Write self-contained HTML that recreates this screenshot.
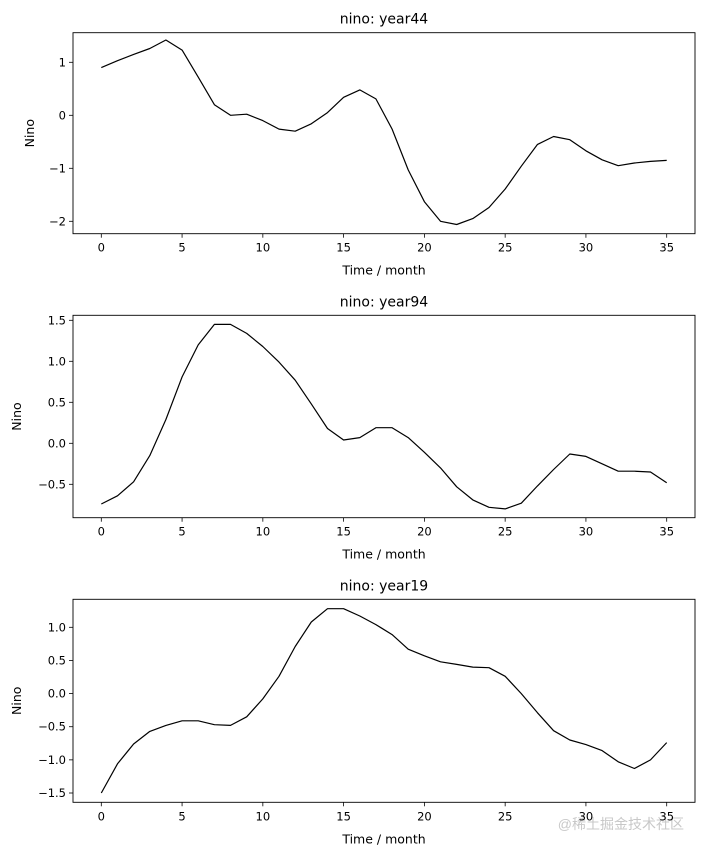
<!DOCTYPE html>
<html><head><meta charset="utf-8"><style>
body{margin:0;background:#fff;}
svg{display:block;font-family:"DejaVu Sans","Liberation Sans",sans-serif;}
</style></head><body>
<svg id="fig" width="706" height="855">
<text x="684" y="829" font-size="14" fill="#c8c8c8" text-anchor="end" font-family="'Liberation Sans','Noto Sans CJK SC',sans-serif">@稀土掘金技术社区</text>
</svg>
<script>
const months = Array.from({length:36},(_,i)=>i);
const xTicks = [0,5,10,15,20,25,30,35];
const year44 = [0.90,1.03,1.15,1.26,1.42,1.23,0.72,0.20,0.00,0.02,-0.10,-0.26,-0.30,-0.16,0.05,0.34,0.48,0.31,-0.26,-1.03,-1.63,-2.00,-2.06,-1.95,-1.74,-1.39,-0.96,-0.55,-0.40,-0.46,-0.67,-0.84,-0.95,-0.90,-0.87,-0.85];
const year94 = [-0.74,-0.64,-0.47,-0.15,0.29,0.81,1.20,1.45,1.45,1.34,1.18,0.99,0.77,0.48,0.18,0.04,0.07,0.19,0.19,0.07,-0.11,-0.30,-0.53,-0.69,-0.78,-0.80,-0.73,-0.52,-0.32,-0.13,-0.16,-0.25,-0.34,-0.34,-0.35,-0.48];
const year19 = [-1.50,-1.06,-0.76,-0.57,-0.48,-0.41,-0.41,-0.47,-0.48,-0.35,-0.08,0.26,0.71,1.08,1.28,1.28,1.17,1.04,0.89,0.67,0.57,0.48,0.44,0.40,0.39,0.26,0.00,-0.29,-0.56,-0.70,-0.77,-0.86,-1.03,-1.13,-1.00,-0.74];
const yTicks44 = [-2,-1,0,1];
const yTicks94 = [-0.5,0.0,0.5,1.0,1.5];
const yTicks19 = [-1.5,-1.0,-0.5,0.0,0.5,1.0];
const titles = ["nino: year44","nino: year94","nino: year19"];

const NS="http://www.w3.org/2000/svg";
const svg=document.getElementById('fig');
function mk(tag,attrs,parent){const e=document.createElementNS(NS,tag);for(const k in attrs)e.setAttribute(k,attrs[k]);(parent||svg).appendChild(e);return e;}

function chart(vals,yTicks,title,top,bottom,yRef1,yRef2,decimals,ylabX,name){
  const L=73,R=695;
  const g=mk('g',{});
  
  
  const xs=v=>101.3+(v-0)*(666.7-101.3)/35;
  const ys=v=>yRef1.p+(v-yRef1.v)*(yRef2.p-yRef1.p)/(yRef2.v-yRef1.v);
  const t=mk('text',{x:(L+R)/2,y:top-9,'font-size':14,'text-anchor':'middle',fill:'#000'},g);
  t.textContent=title;
  
  
  xTicks.forEach(v=>{
    const x=xs(v);
    const l=mk('line',{x1:x,x2:x,y1:bottom,y2:bottom+4,stroke:'#000','stroke-width':0.8},g);
    
    
    const tx=mk('text',{x:x,y:bottom+18,'font-size':11.5,'text-anchor':'middle'},g);
    tx.textContent=v;
    
    
  });
  yTicks.forEach(v=>{
    const y=ys(v);
    const l=mk('line',{x1:L-4,x2:L,y1:y,y2:y,stroke:'#000','stroke-width':0.8},g);
    
    
    const tx=mk('text',{x:L-7,y:y+4,'font-size':11.5,'text-anchor':'end'},g);
    tx.textContent=(v<0?'\u2212':'')+Math.abs(v).toFixed(decimals);
    
    
  });
  const xl=mk('text',{x:(L+R)/2,y:bottom+41,'font-size':12.5,'text-anchor':'middle'},g);
  xl.textContent='Time / month';
  
  
  const cy=(top+bottom)/2;
  const yl=mk('text',{x:ylabX,y:cy,'font-size':12.5,'text-anchor':'middle',transform:`rotate(-90 ${ylabX} ${cy})`},g);
  yl.textContent='Nino';
  
  
  const pts=vals.map((v,i)=>xs(months[i]).toFixed(1)+','+ys(v).toFixed(1)).join(' ');
  const pl=mk('polyline',{points:pts,fill:'none',stroke:'#000','stroke-width':1.2,'stroke-linejoin':'round'},g);
  
  
  const fr=mk('rect',{x:L,y:top,width:R-L,height:bottom-top,fill:'none',stroke:'#000','stroke-width':0.9},g);
  
  
}
chart(year44,yTicks44,titles[0],32.7,233.7,{v:1,p:62.3},{v:-2,p:221.3},0,34,'chart-year44');
chart(year94,yTicks94,titles[1],315.3,517.7,{v:1.5,p:320.3},{v:-0.5,p:484.3},1,21,'chart-year94');
chart(year19,yTicks19,titles[2],599.3,802.3,{v:1.0,p:627.3},{v:-1.5,p:793},1,21,'chart-year19');
</script>
</body></html>
